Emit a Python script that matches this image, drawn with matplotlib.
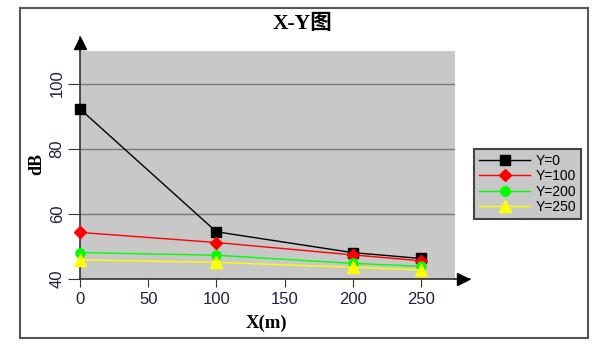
#!/usr/bin/python3
"""X-Y chart: dB against X distance for several Y offsets."""

import matplotlib
matplotlib.use("Agg")
import matplotlib.pyplot as plt
from matplotlib.patches import Rectangle

# data
x_m = [0, 100, 200, 250]
db_y0 = [92.2, 54.5, 48.1, 46.3]
db_y100 = [54.3, 51.2, 47.4, 45.6]
db_y200 = [48.1, 47.3, 44.8, 43.9]
db_y250 = [45.9, 45.1, 43.6, 42.8]
series_names = ["Y=0", "Y=100", "Y=200", "Y=250"]
x_ticks = [0, 50, 100, 150, 200, 250]
y_ticks = [40, 60, 80, 100]

narrow = ["Liberation Sans", "DejaVu Sans"]
label_font = ["Liberation Serif", "Noto Sans CJK SC", "DejaVu Sans"]

fig = plt.figure(figsize=(6.06, 3.51), dpi=100)
fig.patch.set_facecolor("white")
fig.add_artist(Rectangle((20 / 606, 1 - 338 / 351), 568 / 606, 330 / 351,
                         transform=fig.transFigure, fill=False,
                         edgecolor="#555555", linewidth=1.5))

ax = fig.add_axes([80 / 606, 1 - 279 / 351, 375 / 606, 228 / 351])
ax.set_facecolor("#c8c8c8")

styles = [("black", "s", 7), ("red", "D", 6), ("#00ff00", "o", 6.5),
          ("yellow", "^", 8)]
for vals, name, (col, mk, ms) in zip([db_y0, db_y100, db_y200, db_y250],
                                     series_names, styles):
    ax.plot(x_m, vals, color=col, marker=mk, markersize=ms, linewidth=1,
            label=name, clip_on=False, zorder=3)

ax.set_xlim(0, 275)
ax.set_ylim(40, 110)
ax.set_xticks(x_ticks)
ax.set_yticks(y_ticks)
ax.grid(axis="y", color="#777777", linewidth=1)
ax.set_axisbelow(True)
for s in ["top", "right"]:
    ax.spines[s].set_visible(False)
for s in ["left", "bottom"]:
    ax.spines[s].set_color("#333333")
    ax.spines[s].set_linewidth(1.2)
ax.tick_params(axis="x", length=6, color="#333333", pad=3)
ax.tick_params(axis="y", length=9, color="#333333", pad=2)
for t in ax.get_xticklabels() + ax.get_yticklabels():
    t.set_family(narrow)
    t.set_fontsize(12)
    t.set_color("#202040")
for t in ax.get_yticklabels():
    t.set_rotation(90)
    t.set_va("center")

# axis arrows
ax.plot([0, 0], [1, 1.06], color="#333333", lw=1.2, transform=ax.transAxes,
        clip_on=False)
ax.plot([0], [1.035], marker="^", color="black", markersize=9,
        transform=ax.transAxes, clip_on=False)
ax.plot([1, 1.04], [0, 0], color="#333333", lw=1.2, transform=ax.transAxes,
        clip_on=False)
ax.plot([1.022], [0], marker=">", color="black", markersize=9,
        transform=ax.transAxes, clip_on=False)

fig.text(302 / 606, 1 - 24 / 351, "X-Y图", ha="center", va="center",
         fontsize=15.5, fontweight="bold", family=label_font)
fig.text(37 / 606, 1 - 164 / 351, "dB", ha="center", va="center",
         rotation=90, fontsize=13, fontweight="bold", family=label_font)
fig.text(266 / 606, 1 - 323 / 351, "X(m)", ha="center", va="center",
         fontsize=13.5, fontweight="bold", family=label_font)

leg = ax.legend(loc="upper left", bbox_to_anchor=(474 / 606, 1 - 149 / 351),
                bbox_transform=fig.transFigure, frameon=True, fancybox=False,
                facecolor="#c8c8c8", edgecolor="#444444", framealpha=1,
                prop={"family": narrow, "size": 10}, handlelength=3.7,
                labelspacing=0.1, borderpad=0.35, handletextpad=0.4,
                borderaxespad=0, markerscale=1.05)
leg.get_frame().set_linewidth(1.5)

fig.savefig("out.png", dpi=100)
